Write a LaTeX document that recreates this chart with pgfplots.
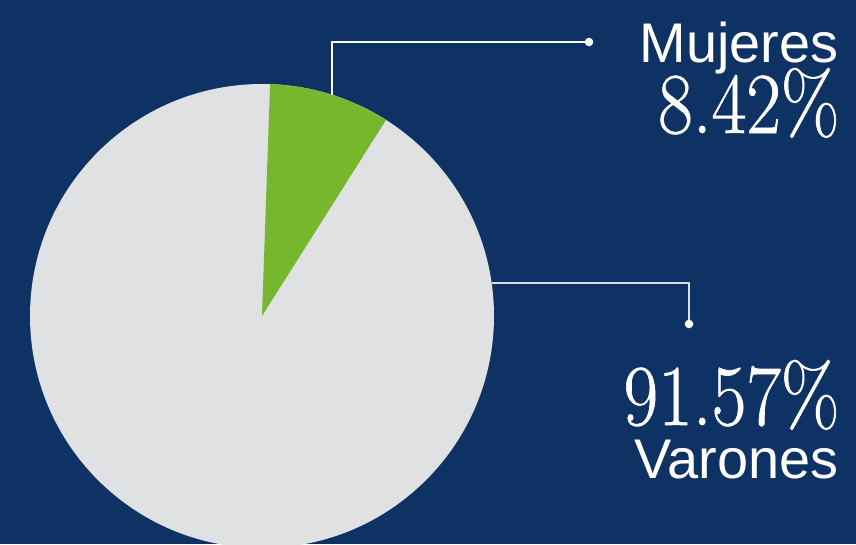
\documentclass[border=0pt]{standalone}
\usepackage{pgfplots}
\usepackage{pgfplotstable}
\usepackage{fontspec}
\pgfplotsset{compat=1.18}
\newfontfamily\labelfont{Liberation Sans}
\newfontfamily\numfont[FakeBold=0.8]{Latin Modern Roman}
\definecolor{bgblue}{RGB}{15,50,100}
\definecolor{slicegreen}{RGB}{118,183,45}
\definecolor{slicegrey}{RGB}{224,225,226}

% share of each group, in percent
\pgfplotstableread{
group share
Mujeres 8.42
Varones 91.57
}\sharedata

\begin{document}
\begin{tikzpicture}
\pgfplotstablegetelem{0}{share}\of\sharedata
\pgfmathsetmacro\mstart{88}
\pgfmathsetmacro\mend{88-3.6*\pgfplotsretval}
\begin{axis}[
    at={(0,0)}, anchor=south west,
    scale only axis,
    width=8.56cm, height=5.44cm,
    xmin=0, xmax=856, ymin=0, ymax=544,
    hide axis,
]
\fill[bgblue] (rel axis cs:0,0) rectangle (rel axis cs:1,1);
% pie
\fill[slicegrey] (axis cs:262,228) circle[radius=23.2mm];
\fill[slicegreen] (axis cs:262,228) -- ++(\mstart:23.2mm)
    arc[start angle=\mstart, end angle=\mend, radius=23.2mm] -- cycle;
% leader lines
\addplot[white, line width=0.4pt, mark=*, mark size=1pt, mark indices={3}]
    coordinates {(332,449) (332,502) (589,502)};
\addplot[white!85!bgblue, line width=0.4pt, mark=*, mark size=1pt,
    mark options={white}, mark indices={3}]
    coordinates {(492,261) (689,261) (689,220)};
% labels
\node[anchor=base east, inner sep=0, text=white,
    font=\labelfont\fontsize{15.9}{17}\selectfont] at (axis cs:839,482) {Mujeres};
\node[anchor=base east, inner sep=0, text=white,
    font=\numfont\fontsize{24.7}{26}\selectfont] at (axis cs:840,411) {\scalebox{0.87}[1]{8.42\%}};
\node[anchor=base east, inner sep=0, text=white,
    font=\numfont\fontsize{24.7}{26}\selectfont] at (axis cs:840,119) {\scalebox{0.87}[1]{91.57\%}};
\node[anchor=base east, inner sep=0, text=white,
    font=\labelfont\fontsize{15.9}{17}\selectfont] at (axis cs:839,66) {Varones};
\end{axis}
\end{tikzpicture}
\end{document}
